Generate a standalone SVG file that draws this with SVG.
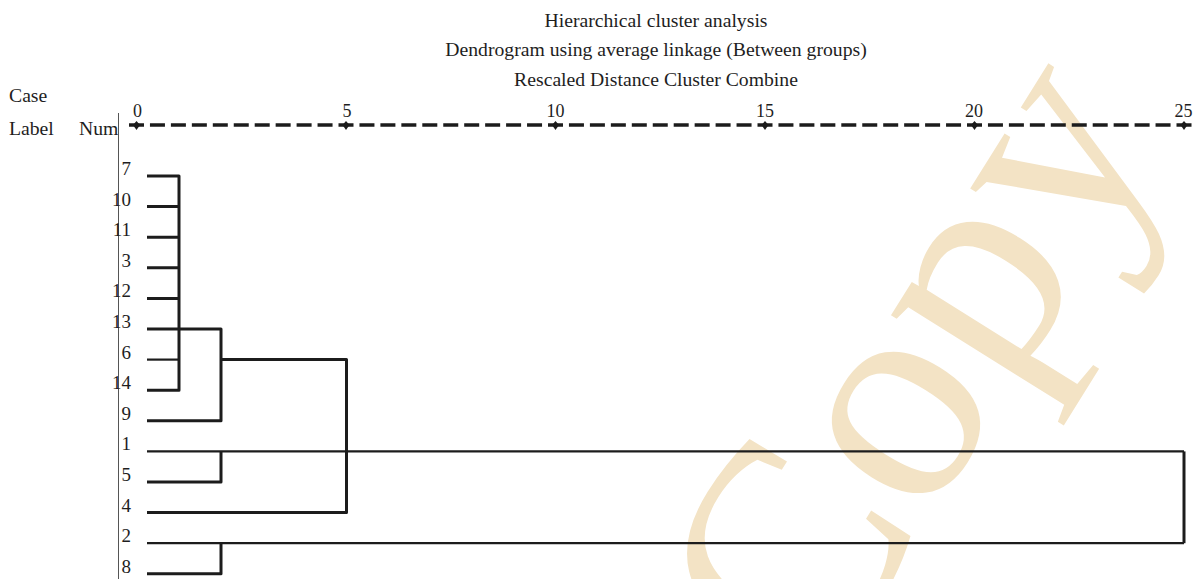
<svg xmlns="http://www.w3.org/2000/svg" width="1193" height="579" viewBox="0 0 1193 579">
<style>
text{font-family:"Liberation Serif","Times New Roman",serif;fill:#1e1e1e}
.t{font-size:19.7px}
.ax{font-size:18px;text-anchor:middle}
.lb{font-size:19px;text-anchor:end}
.k{fill:none;stroke:#1c1c1c;stroke-width:3;stroke-linejoin:round;stroke-linecap:butt}
.n{fill:none;stroke:#1c1c1c;stroke-width:2.2}
.wm{font-size:305px;fill:#f3e3c5}
</style>
<defs>
<path id="tick" d="M-3.5,0 L0,-4 L3.5,0 L0,5 Z" fill="#1c1c1c"/>
</defs>
<rect width="1193" height="579" fill="#ffffff"/>
<text class="wm" transform="translate(817.5,697) rotate(-58)">Copy</text>
<g id="titles" class="t" text-anchor="middle">
<text class="t" x="656" y="26.5">Hierarchical cluster analysis</text>
<text class="t" x="656" y="56">Dendrogram using average linkage (Between groups)</text>
<text class="t" x="656" y="86">Rescaled Distance Cluster Combine</text>
</g>
<g id="header">
<text class="t" x="9" y="101.5">Case</text>
<text class="t" x="9" y="135">Label</text>
<text class="t" x="79" y="135">Num</text>
</g>
<g id="axis">
<line x1="129" y1="125" x2="1193" y2="125" stroke="#1c1c1c" stroke-width="3.5" stroke-dasharray="15 5.95"/>
<use href="#tick" x="136.5" y="125"/>
<use href="#tick" x="346" y="125"/>
<use href="#tick" x="555.5" y="125"/>
<use href="#tick" x="765" y="125"/>
<use href="#tick" x="974.5" y="125"/>
<use href="#tick" x="1184" y="125"/>
<text class="ax" x="137.5" y="117">0</text>
<text class="ax" x="347" y="117">5</text>
<text class="ax" x="555.5" y="117">10</text>
<text class="ax" x="765" y="117">15</text>
<text class="ax" x="974" y="117">20</text>
<text class="ax" x="1183.5" y="117">25</text>
</g>
<line id="axis-left" x1="118.5" y1="113" x2="118.5" y2="579" stroke="#555" stroke-width="1"/>
<g id="case-7"><text class="lb" x="131" y="175">7</text></g>
<g id="case-10"><text class="lb" x="131" y="205.6">10</text></g>
<g id="case-11"><text class="lb" x="131" y="236.2">11</text></g>
<g id="case-3"><text class="lb" x="131" y="266.8">3</text></g>
<g id="case-12"><text class="lb" x="131" y="297.4">12</text></g>
<g id="case-13"><text class="lb" x="131" y="328">13</text></g>
<g id="case-6"><text class="lb" x="131" y="358.6">6</text></g>
<g id="case-14"><text class="lb" x="131" y="389.2">14</text></g>
<g id="case-9"><text class="lb" x="131" y="419.8">9</text></g>
<g id="case-1"><text class="lb" x="131" y="450.4">1</text></g>
<g id="case-5"><text class="lb" x="131" y="481">5</text></g>
<g id="case-4"><text class="lb" x="131" y="511.6">4</text></g>
<g id="case-2"><text class="lb" x="131" y="542.2">2</text></g>
<g id="case-8"><text class="lb" x="131" y="572.8">8</text></g>
<g id="connectors">
<path class="k" d="M147,176 H179 V390.2 H147"/>
<path class="k" d="M147,206.6 H179 M147,237.2 H179 M147,267.8 H179 M147,298.4 H179"/>
<path class="n" d="M147,359.6 H179"/>
<path class="k" d="M147,329 H221 V420.8 H147"/>
<path class="k" d="M221,359.6 H346.5 V512.6 H147"/>
<path class="n" d="M147,451.4 H1184 M147,543.2 H1184"/>
<path class="k" d="M1184,451.4 V543.2"/>
<path class="k" d="M147,482 H221 V451.4"/>
<path class="k" d="M147,573.8 H221 V543.2"/>
</g>
</svg>
